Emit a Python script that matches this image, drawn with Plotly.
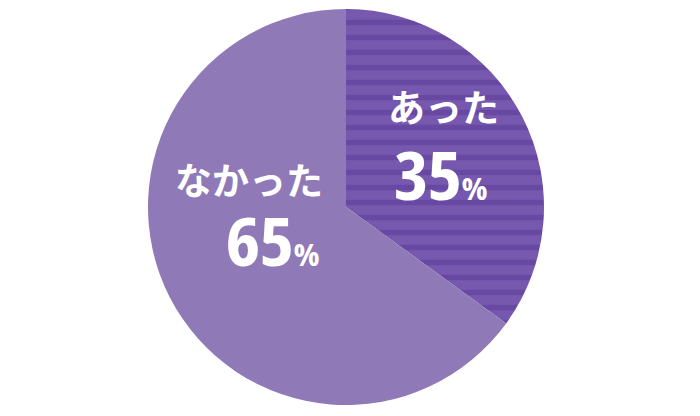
import plotly.graph_objects as go

labels = ["あった", "なかった"]
values = [35, 65]
colors = ["#7658ae", "#9079b7"]
stripe_colors = ["#583795", "rgba(0,0,0,0)"]
patterns = ["-", ""]

W, H = 700, 416
L, R, T, B = 0, 8, 9, 11

def px(x, y):
    return (x - L) / (W - L - R), 1 - (y - T) / (H - T - B)

fig = go.Figure(go.Pie(
    labels=labels,
    values=values,
    sort=False,
    direction="clockwise",
    rotation=0,
    textinfo="none",
    hoverinfo="label+percent",
    marker=dict(
        colors=colors,
        line=dict(width=0),
        pattern=dict(shape=patterns, fgcolor=stripe_colors, size=15,
                     solidity=0.36, fillmode="overlay"),
    ),
    showlegend=False,
))

label_pos = [(443, 106), (249, 179)]
num_pos = [(440, 174), (272, 240)]
jp_font = dict(family="Noto Sans CJK JP", size=37, color="white")
num_font = dict(family="Noto Sans Display, DejaVu Sans Condensed, sans-serif", size=66, color="white")

anns = []
for lab, val, lp, npos in zip(labels, values, label_pos, num_pos):
    x, y = px(*lp)
    anns.append(dict(x=x, y=y, xref="paper", yref="paper", text=f"<b>{lab}</b>",
                     showarrow=False, font=jp_font, xanchor="center", yanchor="middle"))
    x, y = px(*npos)
    anns.append(dict(x=x, y=y, xref="paper", yref="paper",
                     text=(f"<span style='font-stretch:condensed'><b>{val}</b></span>"
                           f"<span style='font-size:31px;font-stretch:condensed'><b>%</b></span>"),
                     showarrow=False, font=num_font, xanchor="center", yanchor="middle"))

fig.update_layout(
    width=W, height=H,
    margin=dict(l=L, r=R, t=T, b=B),
    paper_bgcolor="white", plot_bgcolor="white",
    annotations=anns,
)

fig.write_html("out.html", config={"displayModeBar": False},
               post_script="document.body.style.margin='0';")
